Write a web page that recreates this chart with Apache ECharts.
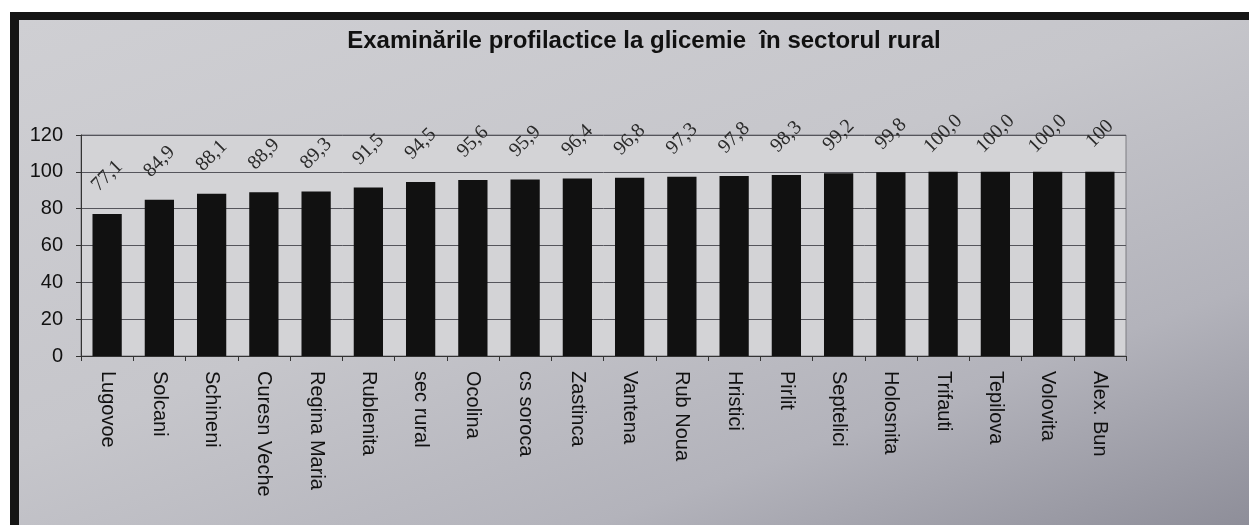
<!DOCTYPE html>
<html lang="ro" style="height: 100%">
<head>
  <meta charset="utf-8">
  <style>
    body {
      margin: 0;
      height: 100%;
      background: #ffffff;
      font-family: 'Liberation Sans', Arial, sans-serif;
    }
    #frame {
      position: absolute;
      left: 10px;
      top: 12px;
      right: 0;
      bottom: 0;
      border-left: 9px solid #151515;
      border-top: 8px solid #151515;
      background: linear-gradient(160deg, #cfcfd3 0%, #c6c6cb 45%, #b3b3bb 75%, #8e8e99 100%);
    }
    #container {
      position: absolute;
      left: 0;
      top: 0;
      width: 1249px;
      height: 525px;
    }
  </style>
</head>
<body>
  <div id="frame"></div>
  <div id="container"></div>

  <script type="text/javascript" src="https://cdn.jsdelivr.net/npm/echarts@6/dist/echarts.min.js"></script>
  <script type="text/javascript">
    var categories = ['Lugovoe', 'Solcani', 'Schineni', 'Curesn Veche', 'Regina Maria', 'Rublenita',
      'sec rural', 'Ocolina', 'cs soroca', 'Zastinca', 'Vantena', 'Rub Noua', 'Hristici', 'Pirlit',
      'Septelici', 'Holosnita', 'Trifauti', 'Tepilova', 'Volovita', 'Alex. Bun'];
    var values = [77.1, 84.9, 88.1, 88.9, 89.3, 91.5, 94.5, 95.6, 95.9, 96.4, 96.8, 97.3, 97.8, 98.3,
      99.2, 99.8, 100.0, 100.0, 100.0, 100];
    var valueLabels = ['77,1', '84,9', '88,1', '88,9', '89,3', '91,5', '94,5', '95,6', '95,9', '96,4',
      '96,8', '97,3', '97,8', '98,3', '99,2', '99,8', '100,0', '100,0', '100,0', '100'];
    var yTicks = [0, 20, 40, 60, 80, 100, 120];

    var dom = document.getElementById('container');
    var myChart = echarts.init(dom, null, { renderer: 'canvas' });

    var option = {
      animation: false,
      backgroundColor: 'transparent',
      title: {
        text: 'Examinările profilactice la glicemie  în sectorul rural',
        left: 639,
        top: 24,
        textAlign: 'center',
        textStyle: {
          fontFamily: 'Liberation Sans',
          fontWeight: 'bold',
          fontSize: 24,
          color: '#111'
        }
      },
      grid: {
        left: 81,
        right: 123,
        top: 135,
        bottom: 169,
        show: true,
        backgroundColor: '#d3d3d6',
        borderColor: '#7d7d82',
        borderWidth: 1
      },
      xAxis: {
        type: 'category',
        data: categories,
        axisLine: { lineStyle: { color: '#333', width: 1 } },
        axisTick: { show: true, length: 5, lineStyle: { color: '#333' } },
        axisLabel: {
          rotate: -90,
          margin: 15,
          fontFamily: 'Liberation Sans',
          fontSize: 20,
          color: '#111'
        }
      },
      yAxis: {
        type: 'value',
        min: yTicks[0],
        max: yTicks[yTicks.length - 1],
        interval: 20,
        axisLine: { show: true, lineStyle: { color: '#333' } },
        axisTick: { show: true, length: 5, lineStyle: { color: '#333' } },
        splitLine: { lineStyle: { color: '#55555c', width: 1 } },
        axisLabel: {
          margin: 18,
          fontFamily: 'Liberation Sans',
          fontSize: 20,
          color: '#111'
        }
      },
      series: [{
        type: 'bar',
        data: values,
        barWidth: '56%',
        itemStyle: { color: '#111111' },
        label: {
          show: true,
          position: 'top',
          distance: 38,
          rotate: 45,
          align: 'center',
          verticalAlign: 'middle',
          fontFamily: 'Liberation Serif',
          fontSize: 20,
          color: '#2a2a2a',
          formatter: function (p) { return valueLabels[p.dataIndex]; }
        }
      }]
    };

    myChart.setOption(option);
    window.addEventListener('resize', myChart.resize);
  </script>
</body>
</html>
